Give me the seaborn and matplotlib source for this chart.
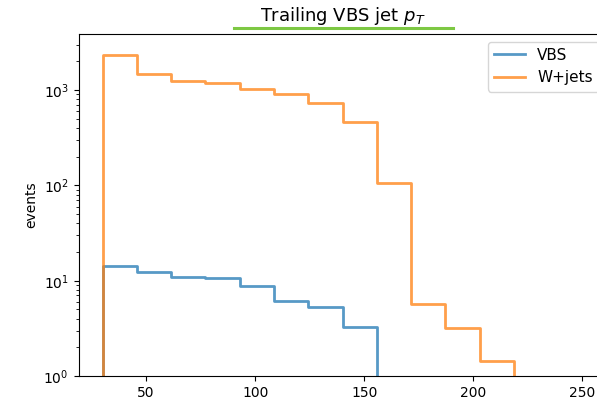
import numpy as np
import pandas as pd
import matplotlib
matplotlib.use("Agg")
import matplotlib.pyplot as plt
from matplotlib.lines import Line2D
import seaborn as sns

# Bin edges of the histogram (30 to 250 GeV, 14 bins)
bin_edges = np.linspace(30, 250, 15)
# Counts per bin
vbs_counts = [14.1, 12.2, 11.0, 10.6, 8.7, 6.15, 5.3, 3.3, 0, 0, 0, 0, 0, 0]
wjets_counts = [2350, 1460, 1240, 1195, 1030, 920, 735, 465, 106, 5.7, 3.2, 1.45, 0, 0]
samples = ["VBS", "W+jets"]
colors = ["#1f77b4", "#ff7f0e"]
title = "Trailing VBS jet $p_T$"
ylabel = "events"

# one empty bin in front so the step rises from the baseline at 30
width = bin_edges[1] - bin_edges[0]
edges = np.concatenate([[bin_edges[0] - width], bin_edges])
centers = 0.5 * (edges[:-1] + edges[1:])

fig = plt.figure(figsize=(5.97, 4.03), dpi=100)
ax = fig.add_axes([78.5 / 597, (403 - 376) / 403, 528 / 597, 342 / 403])

for name, counts, col in zip(samples, [vbs_counts, wjets_counts], colors):
    df = pd.DataFrame({"x": centers, "w": np.concatenate([[0], counts])})
    sns.histplot(data=df, x="x", weights="w", bins=len(edges) - 1,
                 binrange=(edges[0], edges[-1]), element="step",
                 fill=False, color=col, linewidth=2, alpha=0.75, ax=ax)

ax.set_yscale("log")
ax.set_ylim(1, 3880)
ax.set_xlim(19, 261)
ax.set_xticks([50, 100, 150, 200, 250])
ax.set_xlabel("")
ax.set_ylabel(ylabel, fontsize=10)
ax.set_title(title, fontsize=13, pad=9.5)

handles = [Line2D([], [], color=c, lw=2, alpha=0.75) for c in colors]
ax.legend(handles, samples, loc="upper right", fontsize=11)

fig.add_artist(Line2D([234 / 597, 453 / 597], [1 - 28 / 403, 1 - 28 / 403],
                      color="#7dc843", lw=2.2, transform=fig.transFigure))

fig.savefig("out.png", dpi=100)
